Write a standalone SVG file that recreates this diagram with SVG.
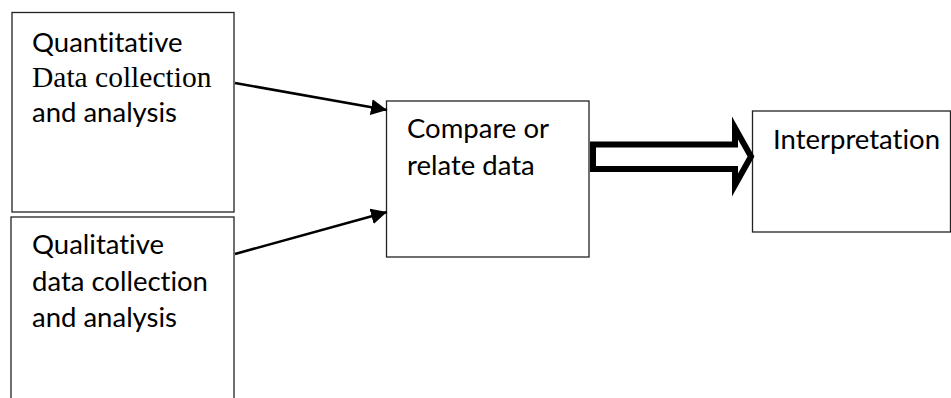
<svg xmlns="http://www.w3.org/2000/svg" width="951" height="398" viewBox="0 0 951 398">
  <style>
    .box { fill: #ffffff; stroke: #222222; stroke-width: 1.3; }
    .t { font-family: Lato, "Open Sans", "Liberation Sans", sans-serif; font-size: 27.5px; fill: #000000; font-variant-ligatures: none; font-feature-settings: "liga" 0, "clig" 0; }
    .serif { font-family: "Liberation Serif", "Times New Roman", serif; font-size: 29.5px; }
    .conn { stroke: #000000; stroke-width: 2.6; fill: none; }
    .block { fill: #ffffff; stroke: #000000; stroke-width: 6; stroke-linejoin: miter; stroke-miterlimit: 10; }
  </style>
  <defs>
    <marker id="ah" markerUnits="userSpaceOnUse" markerWidth="18" markerHeight="16" refX="16" refY="8" orient="auto">
      <path d="M0,0 L16,8 L0,16 Z" fill="#000000"/>
    </marker>
  </defs>
  <rect width="951" height="398" fill="#ffffff"/>

  <g id="quantitative">
    <rect class="box" x="12" y="12.5" width="222" height="199.5"/>
    <text class="t" x="32" y="52">Quantitative</text>
    <text class="t serif" x="32" y="87">Data collection</text>
    <text class="t" x="32" y="122">and analysis</text>
  </g>

  <g id="qualitative">
    <rect class="box" x="11" y="217" width="223" height="200"/>
    <text class="t" x="32" y="254">Qualitative</text>
    <text class="t" x="32" y="291">data collection</text>
    <text class="t" x="32" y="327">and analysis</text>
  </g>

  <g id="compare">
    <rect class="box" x="386.5" y="101" width="202.5" height="156"/>
    <text class="t" x="407" y="138">Compare or</text>
    <text class="t" x="407" y="175">relate data</text>
  </g>

  <g id="interpretation">
    <rect class="box" x="752.5" y="111" width="198" height="121"/>
    <text class="t" x="773" y="149">Interpretation</text>
  </g>

  <g id="connectors">
    <line class="conn" x1="235" y1="83" x2="387" y2="110" marker-end="url(#ah)"/>
    <line class="conn" x1="235" y1="254" x2="387" y2="212" marker-end="url(#ah)"/>
    <path class="block" d="M593,144.5 H735 V128 L751,156.5 L735,185 V169 H593 Z"/>
  </g>
</svg>
